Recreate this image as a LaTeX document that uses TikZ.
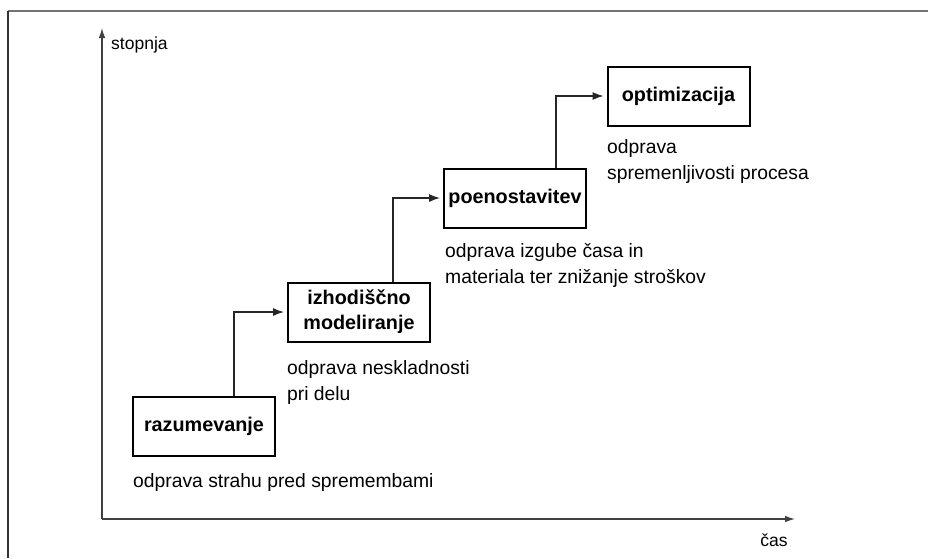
\documentclass[tikz,border=0pt]{standalone}
\usepackage{fontspec}
\setmainfont{Liberation Sans}
\usetikzlibrary{arrows.meta}
\begin{document}
\begin{tikzpicture}[x=1pt,y=-1pt,
  stepbox/.style={draw=black, line width=2pt, minimum width=142pt, minimum height=59pt,
    inner sep=0pt, align=center, font=\fontsize{19.8}{25}\selectfont\bfseries},
  caption/.style={anchor=west, inner sep=0pt, align=left,
    font=\fontsize{19.3}{26}\selectfont, text=black},
  conn/.style={line width=1.2pt, draw=black!85, shorten >=3pt,
    -{Latex[length=11pt,width=8pt]}},
  axis/.style={line width=1.2pt, draw=black!75, -{Latex[length=10pt,width=6.5pt]}},
  axlabel/.style={inner sep=0pt, font=\fontsize{17.5}{20}\selectfont}
]
\useasboundingbox (0,0) rectangle (928,558);
% frame
\draw[line width=2pt, black!55] (8,11) -- (928,11);
\draw[line width=1.3pt, black!80] (8,11) -- (8,558);
% axes
\coordinate (O) at (102,519);
\coordinate (Ytop) at (102,28);
\coordinate (Xend) at (795,519);
\draw[axis] (O) -- (Ytop);
\draw[axis] (O) -- (Xend);
\node[axlabel, anchor=west] (ylab) at (111,45) {stopnja};
\node[axlabel] (xlab) at (774,540) {čas};
% steps
\node[stepbox] (razum) at (204,426.5) {razumevanje};
\node[stepbox] (izhod) at (359,312) {izhodiščno\\modeliranje};
\node[stepbox] (poen) at (515,198) {poenostavitev};
\node[stepbox] (optim) at (678.5,96) {optimizacija};
% captions
\node[caption] (c1) at (133,482) {odprava strahu pred spremembami};
\node[caption] (c2) at (287,382.5) {odprava neskladnosti\\pri delu};
\node[caption] (c3) at (445,265) {odprava izgube časa in\\materiala ter znižanje stroškov};
\node[caption] (c4) at (607,162) {odprava\\spremenljivosti procesa};
% connectors
\draw[conn] ([xshift=30pt]razum.north) |- (izhod.west);
\draw[conn] ([xshift=34pt]izhod.north) |- (poen.west);
\draw[conn] ([xshift=41pt]poen.north) |- (optim.west);
\end{tikzpicture}
\end{document}
